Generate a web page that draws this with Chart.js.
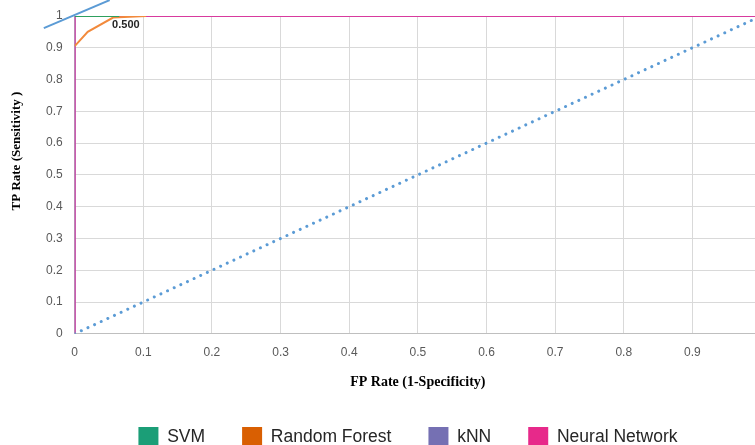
<!DOCTYPE html>
<html>
<head>
<meta charset="utf-8">
<script src="https://cdn.jsdelivr.net/npm/chart.js@4/dist/chart.umd.min.js"></script>
<style>
  html, body { margin: 0; padding: 0; background: #fff; overflow: hidden; }
  #wrap { position: absolute; left: 0; top: 0; width: 816px; height: 460px; }
</style>
</head>
<body>
<div id="wrap"><canvas id="roc"></canvas></div>
<script>
// ---------- Data ----------
const svmX = [0, 0.065];
const svmY = [1, 1];

const rfX = [0, 0.019, 0.056, 0.104];
const rfY = [0.905, 0.95, 0.995, 1];

const knnX = [0, 0, 1];
const knnY = [0, 1, 1];

const nnX = [0, 0, 1];
const nnY = [0, 1, 1];

// chance diagonal
const diagX = [0, 1];
const diagY = [0, 1];

// stray blue segment near the top-left corner
const strayX = [-0.045, 0.051];
const strayY = [0.962, 1.05];

// data label
const labelX = [0.056];
const labelY = [0.995];
const labelText = ['0.500'];

const xTicks = [0, 0.1, 0.2, 0.3, 0.4, 0.5, 0.6, 0.7, 0.8, 0.9];
const yTitle = 'TP Rate (Sensitivity )';

// ---------- Helpers ----------
function pts(xs, ys) { return xs.map((x, i) => ({ x: x, y: ys[i] })); }

const legendColors = {
  'SVM': '#1b9e77',
  'Random Forest': '#d95f02',
  'kNN': '#7570b3',
  'Neural Network': '#e7298a'
};

const lineBase = { showLine: true, pointRadius: 0, pointHoverRadius: 0, fill: false, tension: 0, borderWidth: 2 };

// legend sits a little right of the canvas centre in the original
const legendNudge = {
  id: 'legendNudge',
  afterLayout(chart) {
    const lg = chart.legend;
    lg.left += 10.5; lg.right += 10.5;
    lg.top -= 3; lg.bottom -= 3;
  }
};

// value label next to its point + the y axis title
const extras = {
  id: 'extras',
  afterDatasetsDraw(chart) {
    const { ctx, scales, chartArea } = chart;
    ctx.save();
    ctx.font = 'bold 11px "Liberation Sans", Arial, sans-serif';
    ctx.fillStyle = '#262626';
    ctx.textAlign = 'left';
    ctx.textBaseline = 'top';
    labelText.forEach((t, i) => {
      const px = scales.x.getPixelForValue(labelX[i]);
      const py = scales.y.getPixelForValue(labelY[i]);
      ctx.fillText(t, px - 1, py + 2);
    });

    // y title sits a bit above the middle of the plot
    ctx.font = 'bold 13px "Liberation Serif", "Times New Roman", serif';
    ctx.fillStyle = '#000';
    ctx.textAlign = 'center';
    ctx.textBaseline = 'middle';
    ctx.translate(17, chartArea.top + (chartArea.bottom - chartArea.top) * 0.425);
    ctx.rotate(-Math.PI / 2);
    ctx.fillText(yTitle, 0, 0);
    ctx.restore();
  }
};

const ctx = document.getElementById('roc').getContext('2d');

new Chart(ctx, {
  type: 'scatter',
  data: {
    datasets: [
      { ...lineBase, label: 'SVM', data: pts(svmX, svmY), borderColor: '#2ea05e', backgroundColor: legendColors['SVM'], order: 0 },
      { ...lineBase, label: 'Random Forest', data: pts(rfX, rfY), borderColor: '#f28a3c', backgroundColor: legendColors['Random Forest'], order: 1 },
      { ...lineBase, label: 'kNN', data: pts(knnX, knnY), borderColor: '#8a7cc0', backgroundColor: legendColors['kNN'], order: 5 },
      { ...lineBase, label: 'Neural Network', data: pts(nnX, nnY), borderColor: '#d83a9e', backgroundColor: legendColors['Neural Network'], order: 3 },
      { ...lineBase, label: 'diag', data: pts(diagX, diagY), borderColor: '#5b9bd5', borderWidth: 3,
        borderDash: [0.01, 7.3], borderCapStyle: 'round', order: 2 },
      { ...lineBase, label: 'stray', data: pts(strayX, strayY), borderColor: '#5b9bd5', clip: false, order: 4 }
    ]
  },
  options: {
    responsive: true,
    maintainAspectRatio: false,
    animation: false,
    layout: { padding: { left: 34, top: 16, right: 55, bottom: 0 } },
    scales: {
      x: {
        type: 'linear',
        min: 0,
        max: 1,
        afterBuildTicks: (s) => { s.ticks = xTicks.map(v => ({ value: v })); },
        ticks: {
          color: '#595959',
          font: { family: '"Liberation Sans", Arial, sans-serif', size: 12 },
          padding: 12,
          callback: (v) => String(v)
        },
        grid: { color: '#d9d9d9', drawTicks: false },
        border: { color: '#bfbfbf' },
        title: {
          display: true,
          text: 'FP Rate (1-Specificity)',
          color: '#000',
          font: { family: '"Liberation Serif", "Times New Roman", serif', size: 14, weight: 'bold' },
          padding: { top: 2, bottom: 2 }
        }
      },
      y: {
        type: 'linear',
        min: 0,
        max: 1,
        afterFit: (s) => { s.paddingTop = 0; },
        ticks: {
          stepSize: 0.1,
          color: '#595959',
          font: { family: '"Liberation Sans", Arial, sans-serif', size: 12 },
          padding: 12,
          callback: (v) => String(Math.round(v * 10) / 10)
        },
        grid: { color: '#d9d9d9', drawTicks: false },
        border: { color: '#bfbfbf' }
      }
    },
    plugins: {
      legend: {
        position: 'bottom',
        labels: {
          boxWidth: 20,
          boxHeight: 20,
          padding: 37,
          color: '#262626',
          font: { family: '"Liberation Sans", Arial, sans-serif', size: 17.5 },
          generateLabels: (chart) => chart.data.datasets
            .filter(d => legendColors[d.label])
            .map(d => ({
              text: d.label,
              fillStyle: legendColors[d.label],
              strokeStyle: legendColors[d.label],
              lineWidth: 0,
              hidden: false,
              fontColor: '#262626'
            }))
        }
      },
      tooltip: { enabled: false }
    }
  },
  plugins: [legendNudge, extras]
});
</script>
</body>
</html>
